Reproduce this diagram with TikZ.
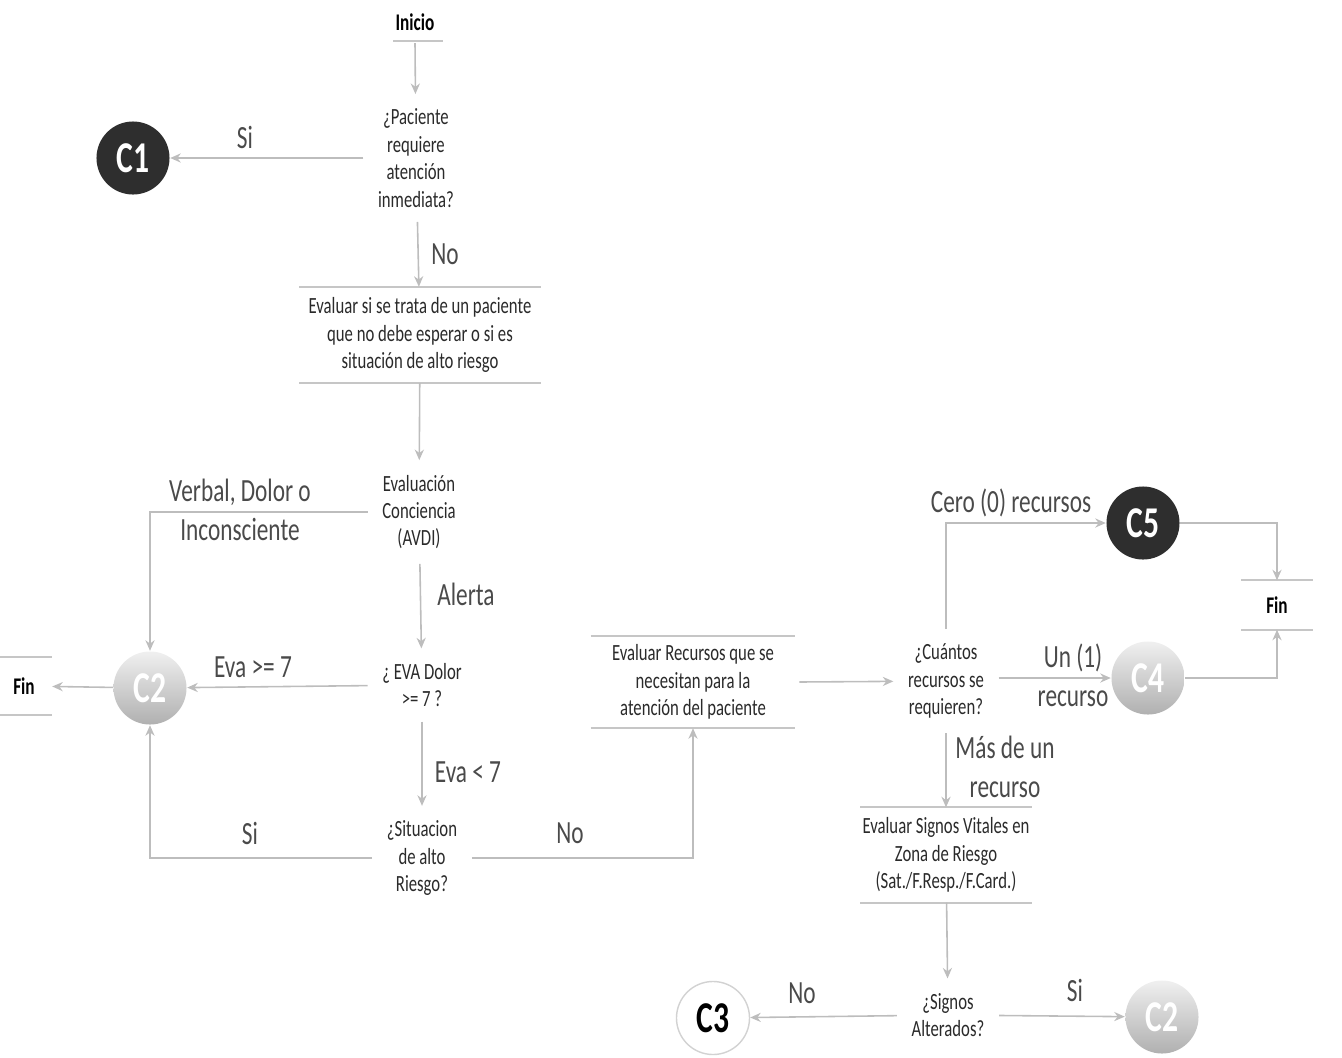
\documentclass[tikz,border=0pt]{standalone}
\usepackage{fontspec}
\setmainfont{Carlito}[FakeStretch=0.72]
\usepackage{tikz}
\usetikzlibrary{calc,arrows.meta,shadings}

\definecolor{nivelosc}{HTML}{2E2E2E}
\definecolor{conector}{HTML}{BDBDBD}
\definecolor{texto}{HTML}{2A2A2A}

\tikzset{
  txt/.style={font=\fontsize{6.6}{7.8}\selectfont, align=center, text=texto, inner sep=4pt},
  lbl/.style={font=\fontsize{9.2}{11}\selectfont, align=center, text=texto!85, inner sep=0pt},
  term/.style={font=\bfseries\fontsize{6.8}{8}\selectfont, text=black, inner sep=0pt},
  nivel/.style={circle, minimum size=0.73cm, inner sep=0pt, font=\bfseries\fontsize{12.5}{14}\selectfont},
  oscuro/.style={nivel, fill=nivelosc, text=white},
  claro/.style={nivel, top color=gray!12, bottom color=gray!62, text=white},
  blanco/.style={nivel, draw=gray!35, fill=white, text=black},
  conn/.style={draw=conector, line width=0.45pt, -{Stealth[length=3pt,width=2.6pt]}},
  rule/.style={draw=gray!45, line width=0.5pt}
}

\begin{document}
\begin{tikzpicture}[x=0.01cm, y=-0.01cm]
        \useasboundingbox (0,0) rectangle (1342,1057);

        % primer tramo
        \node[term] (inicio) at (415,22) {Inicio};
        \node[txt] (q1) at (416,158) {¿Paciente\\requiere\\atención\\inmediata?};
        \node[oscuro] (c1) at (133,158) {C1};
        \node[txt, inner sep=0pt, minimum width=2.4cm, minimum height=0.95cm] (ev1) at (420,335)
            {Evaluar si se trata de un paciente\\que no debe esperar o si es\\situación de alto riesgo};

        \draw[rule] ($(inicio.south)+(-22,10)$) -- ++(50,0);
        \draw[rule] (ev1.north west) -- (ev1.north east);
        \draw[rule] (ev1.south west) -- (ev1.south east);

        \draw[conn] ($(inicio.south)+(0,12)$) -- (q1);
        \draw[conn] (q1) -- (c1);
        \draw[conn] (q1) -- (ev1);
        \node[lbl] at (245,137) {Si};
        \node[lbl] at (445,254) {No};

        % conciencia y dolor
        \node[txt] (avdi) at (419,512) {Evaluación\\Conciencia\\(AVDI)};
        \node[txt] (eva) at (422,685) {¿ EVA Dolor\\>= 7 ?};
        \node[txt] (sit) at (422,858) {¿Situacion\\de alto\\Riesgo?};
        \node[claro] (c2a) at (150,688) {C2};
        \node[term, minimum width=0.55cm, minimum height=0.56cm] (fin1) at (24,686) {Fin};

        \draw[rule] (fin1.north west) -- (fin1.north east);
        \draw[rule] (fin1.south west) -- (fin1.south east);

        \draw[conn] (ev1) -- (avdi);
        \draw[conn] (avdi.west) -| (c2a.north);
        \draw[conn] (avdi) -- (eva);
        \draw[conn] (eva) -- (c2a);
        \draw[conn] (c2a) -- (fin1);
        \draw[conn] (eva) -- (sit);
        \draw[conn] (sit.west) -| (c2a.south);

        \node[lbl] at (240,510) {Verbal, Dolor o\\Inconsciente};
        \node[lbl] at (466,594) {Alerta};
        \node[lbl] at (253,667) {Eva >= 7};
        \node[lbl] at (468,772) {Eva < 7};
        \node[lbl] at (250,833) {Si};
        \node[lbl] at (570,833) {No};

        % recursos
        \node[txt, inner sep=0pt, minimum width=2.03cm, minimum height=0.91cm] (evr) at (693,682)
            {Evaluar Recursos que se\\necesitan para la\\atención del paciente};
        \node[txt] (cuant) at (946,681) {¿Cuántos\\recursos se\\requieren?};
        \node[oscuro] (c5) at (1143,523) {C5};
        \node[claro] (c4) at (1148,678) {C4};
        \node[term, minimum width=0.7cm, minimum height=0.48cm] (fin2) at (1277,605) {Fin};

        \draw[rule] (evr.north west) -- (evr.north east);
        \draw[rule] (evr.south west) -- (evr.south east);
        \draw[rule] (fin2.north west) -- (fin2.north east);
        \draw[rule] (fin2.south west) -- (fin2.south east);

        \draw[conn] (sit.east) -| (evr.south);
        \draw[conn] ($(evr.east)+(4,0)$) -- (cuant);
        \draw[conn] (cuant.north) |- (c5.west);
        \draw[conn] (cuant.east |- c4.west) -- (c4.west);
        \draw[conn] (c5.east) -| (fin2.north);
        \draw[conn] (c4.east) -| (fin2.south);

        \node[lbl] at (1011,503) {Cero (0) recursos};
        \node[lbl] at (1073,675) {Un (1)\\recurso};

        % signos vitales
        \node[txt, inner sep=0pt, minimum width=1.7cm, minimum height=0.94cm] (evs) at (946,855)
            {Evaluar Signos Vitales en\\Zona de Riesgo\\(Sat./F.Resp./F.Card.)};
        \node[txt] (signos) at (948,1015) {¿Signos\\Alterados?};
        \node[blanco] (c3) at (713,1018) {C3};
        \node[claro] (c2b) at (1162,1017) {C2};

        \draw[rule] (evs.north west) -- (evs.north east);
        \draw[rule] (evs.south west) -- (evs.south east);

        \draw[conn] (cuant) -- (evs);
        \draw[conn] (evs) -- (signos);
        \draw[conn] (signos) -- (c3);
        \draw[conn] (signos) -- (c2b);

        \node[lbl] at (1005,767) {Más de un\\recurso};
        \node[lbl] at (802,993) {No};
        \node[lbl] at (1075,990) {Si};
    \end{tikzpicture}
\end{document}
